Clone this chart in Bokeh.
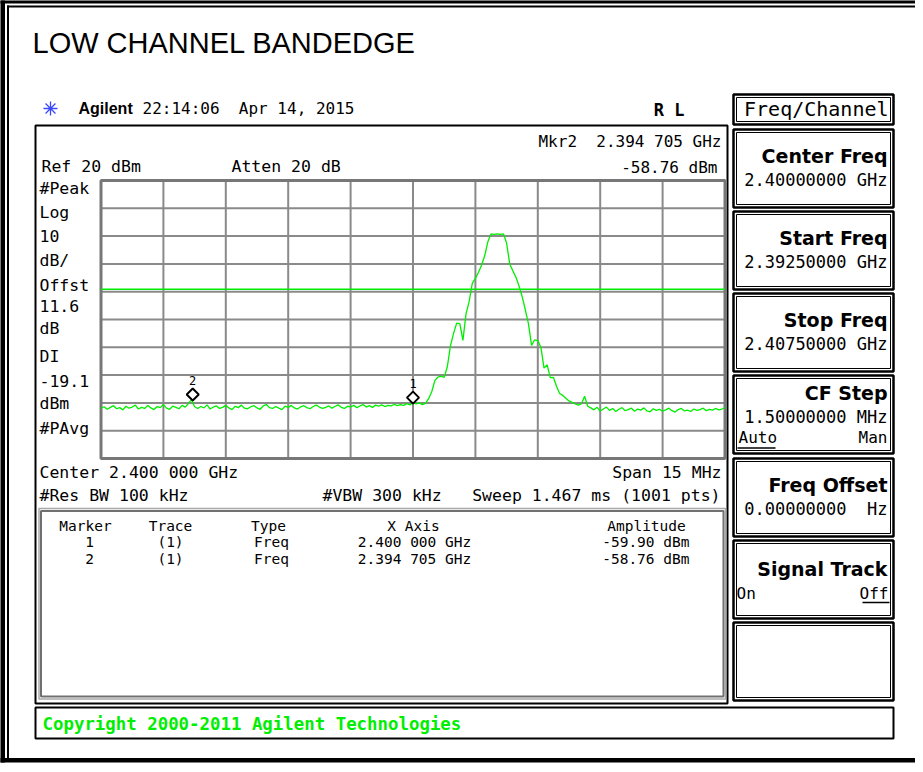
from bokeh.plotting import figure
from bokeh.models import Range1d
from bokeh.core.properties import value
from bokeh.embed import file_html
from bokeh.resources import INLINE

# ---------------- data ----------------
title_text = "LOW CHANNEL BANDEDGE"
timestamp = "22:14:06\u00a0 Apr 14, 2015"
ref_level_dbm = 20.0
db_per_div = 10.0
center_mhz = 2400.0
span_mhz = 15.0
display_line_dbm = -19.1
trace_start_mhz = 2392.5
trace_step_mhz = 0.075

trace_dbm = [
    -62.0, -61.4, -62.3, -61.6, -61.0, -62.1, -61.7, -62.5, -61.2, -61.9,
    -61.5, -60.8, -62.2, -61.6, -62.0, -60.9, -61.8, -62.4, -61.3, -61.7,
    -60.6, -61.9, -62.3, -61.2, -61.6, -62.1, -60.9, -61.5, -60.2, -58.8,
    -61.4, -62.0, -61.3, -61.8, -60.7, -62.2, -61.5, -61.1, -62.0, -61.6,
    -60.9, -61.8, -62.4, -61.2, -61.7, -60.8, -61.9, -62.1, -61.4, -61.0,
    -61.8, -62.3, -61.1, -60.6, -61.7, -62.0, -61.3, -61.9, -62.4, -61.2,
    -61.6, -60.9, -61.8, -62.2, -61.4, -61.0, -61.7, -62.1, -61.3, -60.8,
    -61.5, -62.0, -61.6, -61.1, -61.9, -61.3, -60.7, -61.6, -62.0, -61.2,
    -61.4, -60.9, -61.7, -61.1, -60.6, -61.5, -61.0, -61.6, -60.8, -61.2,
    -60.7, -61.3, -60.9, -61.1, -60.5, -61.0, -60.6, -60.9, -60.3, -60.7,
    -59.9, -60.4, -60.0, -60.6,
    -60.2, -58.5, -56.0, -52.0, -50.7, -50.4, -50.8, -47.0, -39.5, -35.0,
    -31.3, -31.5, -37.5, -28.0, -23.5, -17.0, -15.2, -13.0, -10.4, -7.0,
    -2.0, 0.8, 0.6, 0.8, 0.6, 0.8, -2.5, -10.0, -12.5, -14.8,
    -18.0, -21.8, -26.5, -31.5, -39.3, -37.3, -37.6, -40.0, -47.5, -46.3,
    -50.9, -50.8, -54.0, -56.6, -57.3, -58.3, -59.3, -59.8, -60.4, -60.8,
    -60.3, -57.6, -61.2,
    -61.8, -62.5, -61.6, -62.9, -62.2, -61.5, -62.7, -62.0, -63.1, -62.3,
    -61.7, -62.8, -62.4, -61.9, -63.0, -62.2, -62.6, -61.8, -62.9, -63.2,
    -62.1, -62.7, -62.3, -63.0, -62.5, -61.9, -62.8, -63.3, -62.4, -62.0,
    -62.9, -62.6, -63.1, -62.2, -62.7, -62.4, -61.9, -62.8, -62.3, -62.6,
    -62.0, -62.5, -62.2, -61.7,
]

marker_ids = ["1", "2"]
marker_mhz = [2400.000, 2394.705]
marker_dbm = [-59.90, -58.76]
marker_x_text = ["2.400 000 GHz", "2.394 705 GHz"]
marker_amp_text = ["-59.90 dBm", "-58.76 dBm"]

left_labels = ["#Peak", "Log", "10", "dB/", "Offst", "11.6", "dB", "DI", "-19.1", "dBm", "#PAvg"]
left_label_y = [196, 220, 243, 268, 293, 313, 336, 364, 388, 411, 436]

table_headers = ["Marker", "Trace", "Type", "X Axis", "Amplitude"]

softkey_titles = ["Center Freq", "Start Freq", "Stop Freq", "CF Step", "Freq Offset", "Signal Track", ""]
softkey_values = ["2.40000000 GHz", "2.39250000 GHz", "2.40750000 GHz", "1.50000000 MHz",
                  "0.00000000\u00a0 Hz", "", ""]
softkey_tops = [137, 219, 301, 383, 466, 548, 630]

# ---------------- layout ----------------
MONO = "DejaVu Sans Mono"
SANS = "Liberation Sans"
KEYF = "DejaVu Sans"
GREEN = "#00EE00"
GRID = "#8a8a8a"

GX0, GX1 = 108.5, 732.5   # graticule pixel edges
GY0, GY1 = 188.0, 466.0

p = figure(width=915, height=764, x_range=Range1d(8, 923), y_range=Range1d(772, 8),
           output_backend="svg", toolbar_location=None, min_border=0,
           x_axis_type=None, y_axis_type=None)
p.outline_line_color = None
p.background_fill_color = "white"
p.border_fill_color = "white"

f0 = center_mhz - span_mhz / 2
f1 = center_mhz + span_mhz / 2
mhz_per_px = span_mhz / (GX1 - GX0)
bottom_dbm = ref_level_dbm - 10 * db_per_div
db_per_px = (ref_level_dbm - bottom_dbm) / (GY1 - GY0)
p.extra_x_ranges = {"f": Range1d(f0 - (GX0 - 8) * mhz_per_px, f1 + (923 - GX1) * mhz_per_px)}
p.extra_y_ranges = {"d": Range1d(bottom_dbm - (772 - GY1) * db_per_px, ref_level_dbm + (GY0 - 8) * db_per_px)}
FR = dict(x_range_name="f", y_range_name="d")


def box(l, t, r, b, color="black", width=2.0):
    p.quad(left=[l], right=[r], top=[t], bottom=[b], fill_color=None,
           line_color=color, line_width=width)


def band(l, t, r, b, color="black"):
    p.quad(left=[l], right=[r], top=[t], bottom=[b], fill_color=color, line_color=None)


def txt(x, y, s, size, font=MONO, align="left", style="normal", color="black"):
    # y is the vertical centre of the text line
    p.text(x=[x], y=[y], text=[s], text_font=value(font), text_font_size=f"{size}px",
           text_align=align, text_baseline="alphabetic", text_font_style=style,
           text_color=color)


# page frame
band(0, 0, 12.5, 770)
band(0, 0, 923, 11)
band(0, 765.5, 923, 770)
p.line(x=[15.5, 15.5], y=[13, 766], line_color="black", line_width=2)
p.line(x=[14.5, 923], y=[14, 14], line_color="black", line_width=2)

# header
txt(40, 50, title_text, 29, font=SANS)
p.scatter(x=[58], y=[116], marker="asterisk", size=14, line_color="#3a48ff", line_width=1.3)
txt(86, 116, "Agilent", 16, font=SANS, style="bold")
txt(150, 116, timestamp, 16)
txt(692, 117, "R L", 17, align="right", style="bold")
box(741, 102, 901, 132, width=2.5)
box(744, 105, 898, 129, width=1)
txt(896, 116.5, "Freq/Channel", 20, align="right")

# screen frame
box(43, 133, 735, 711, width=2)
txt(729, 148.5, "Mkr2\u00a0 " + marker_x_text[1], 16, align="right")
txt(725, 175, marker_amp_text[1], 16, align="right")
txt(49, 174, "Ref %d dBm" % ref_level_dbm, 16.5)
txt(239, 174, "Atten 20 dB", 16.5)
for lab, yc in zip(left_labels, left_label_y):
    txt(47, yc, lab, 16.5)

# graticule
vx = [f0 + k * span_mhz / 10 for k in range(11)]
hy = [ref_level_dbm - k * db_per_div for k in range(11)]
p.multi_line(xs=[[x, x] for x in vx[1:-1]], ys=[[bottom_dbm, ref_level_dbm]] * 9,
             line_color=GRID, line_width=2, **FR)
p.multi_line(xs=[[f0, f1]] * 9, ys=[[y, y] for y in hy[1:-1]],
             line_color=GRID, line_width=2, **FR)
p.quad(left=[f0], right=[f1], top=[ref_level_dbm], bottom=[bottom_dbm], fill_color=None,
       line_color="#777777", line_width=3, **FR)

# display line and trace
p.line(x=[f0, f1], y=[display_line_dbm, display_line_dbm], line_color=GREEN, line_width=1.5, **FR)
trace_mhz = [trace_start_mhz + i * trace_step_mhz for i in range(len(trace_dbm))]
p.line(x=trace_mhz, y=trace_dbm, line_color=GREEN, line_width=1.3, **FR)

# markers
lift = 5 * db_per_px
p.scatter(x=marker_mhz, y=[d + lift for d in marker_dbm], marker="square", angle=0.785398,
          size=8.5, fill_color="white", line_color="black", line_width=2, **FR)
p.text(x=marker_mhz, y=[d + 19 * db_per_px for d in marker_dbm], text=marker_ids,
       text_font=value(MONO), text_font_size="12px", text_align="center",
       text_baseline="alphabetic", text_color="black", **FR)

# bottom annotations
txt(47, 480, "Center 2.400 000 GHz", 16.5)
txt(729, 480, "Span 15 MHz", 16.5, align="right")
txt(47, 503, "#Res BW 100 kHz", 16.5)
txt(330, 503, "#VBW 300 kHz", 16.5)
txt(728, 503, "Sweep 1.467 ms (1001 pts)", 16.5, align="right")

# marker table
box(46.5, 516, 733, 706.5, color="#a8a8a8", width=1.5)
box(48.5, 518.5, 731, 704, color="#707070", width=2)
col_cx = [93, 178, 276, 421]
for h, cx in zip(table_headers[:4], col_cx):
    txt(cx, 533, h, 14.5, align="center")
txt(654, 533, table_headers[4], 14.5, align="center")
for i in range(len(marker_ids)):
    yc = 549 + 17 * i
    txt(97, yc, marker_ids[i], 14.5, align="center")
    txt(178, yc, "(1)", 14.5, align="center")
    txt(279, yc, "Freq", 14.5, align="center")
    txt(422, yc, marker_x_text[i], 14.5, align="center")
    txt(697, yc, marker_amp_text[i], 14.5, align="right")

# copyright
box(43, 715, 901, 746, width=2)
txt(50, 731, "Copyright 2000-2011 Agilent Technologies", 17.4, style="bold", color=GREEN)

# softkeys
KH = 78
for t, ttl, val in zip(softkey_tops, softkey_titles, softkey_values):
    box(741, t, 901, t + KH, width=2.5)
    box(744, t + 3, 898, t + KH - 3, width=1)
    if ttl == "CF Step":
        txt(895, t + 17, ttl, 19, font=KEYF, align="right", style="bold")
        txt(895, t + 41, val, 17, align="right")
        txt(746, t + 62, "Auto", 16)
        txt(895, t + 62, "Man", 16, align="right")
        p.line(x=[745, 783], y=[t + 72.5, t + 72.5], line_color="black", line_width=1.5)
    elif ttl == "Signal Track":
        txt(895, t + 28, ttl, 19, font=KEYF, align="right", style="bold")
        txt(744, t + 53, "On", 16)
        txt(896, t + 53, "Off", 16, align="right")
        p.line(x=[870, 897], y=[t + 62, t + 62], line_color="black", line_width=1.5)
    elif ttl:
        txt(895, t + 26.5, ttl, 19, font=KEYF, align="right", style="bold")
        txt(895, t + 50.5, val, 17, align="right")

open("out.html", "w").write(file_html(p, INLINE))
